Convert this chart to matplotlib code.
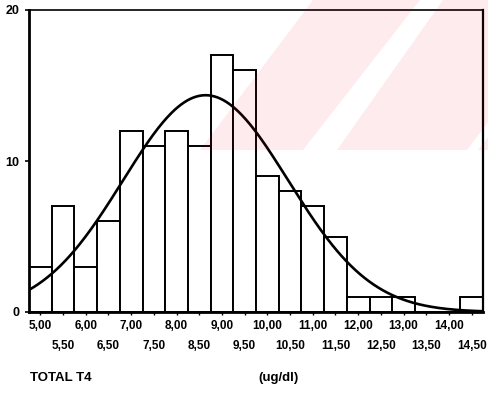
import numpy as np
import matplotlib
matplotlib.use("Agg")
import matplotlib.pyplot as plt
from matplotlib.patches import Polygon

# Histogram of TOTAL T4 (ug/dl), bins of width 0.5
bin_centers = [5.0, 5.5, 6.0, 6.5, 7.0, 7.5, 8.0, 8.5, 9.0, 9.5,
               10.0, 10.5, 11.0, 11.5, 12.0, 12.5, 13.0, 13.5, 14.0, 14.5]
counts = [3, 7, 3, 6, 12, 11, 12, 11, 17, 16,
          9, 8, 7, 5, 1, 1, 1, 0, 0, 1]
tick_labels = ["5,00", "5,50", "6,00", "6,50", "7,00", "7,50", "8,00", "8,50",
               "9,00", "9,50", "10,00", "10,50", "11,00", "11,50", "12,00",
               "12,50", "13,00", "13,50", "14,00", "14,50"]
y_ticks = [0, 10, 20]

# fitted normal curve parameters
mean_t4 = 8.64
sd_t4 = 1.82
bin_width = 0.5

plt.rcParams['font.family'] = ['Liberation Sans', 'DejaVu Sans']

W, H = 489, 393
fig = plt.figure(figsize=(W / 100, H / 100), dpi=100)
fig.patch.set_facecolor('white')
ax = fig.add_axes([29 / W, 1 - 312 / H, 454 / W, 302 / H])
ax.set_facecolor('white')

ax.bar(bin_centers, counts, width=bin_width, facecolor='white',
       edgecolor='black', linewidth=1.4, zorder=2)

n_total = sum(counts)
xs = np.linspace(4.75, 14.75, 300)
ys = n_total * bin_width / (sd_t4 * np.sqrt(2 * np.pi)) * np.exp(-0.5 * ((xs - mean_t4) / sd_t4) ** 2)
ax.plot(xs, ys, color='black', linewidth=1.9, zorder=3)

ax.set_xlim(4.75, 14.75)
ax.set_ylim(0, 20)

# two staggered rows of x labels
ax.set_xticks(bin_centers[0::2])
ax.set_xticklabels(tick_labels[0::2])
ax.set_xticks(bin_centers[1::2], minor=True)
ax.set_xticklabels(tick_labels[1::2], minor=True)
ax.tick_params(axis='x', which='major', length=2, width=1, pad=4,
               labelsize=8.5)
ax.tick_params(axis='x', which='minor', length=2, width=1, pad=18,
               labelsize=8.5)
for lab in ax.get_xticklabels(which='both'):
    lab.set_fontweight('bold')

ax.set_yticks(y_ticks)
ax.set_yticklabels([str(v) for v in y_ticks])
ax.tick_params(axis='y', length=3, width=1.2, pad=4, labelsize=9)
for lab in ax.get_yticklabels():
    lab.set_fontweight('bold')

ax.spines['left'].set_linewidth(2.0)
ax.spines['bottom'].set_linewidth(2.0)
ax.spines['top'].set_linewidth(1.2)
ax.spines['right'].set_linewidth(1.6)

fig.text(30 / W, 1 - 378 / H, "TOTAL T4", fontsize=9.5, fontweight='bold',
         va='center', ha='left')
fig.text(258 / W, 1 - 378 / H, "(ug/dl)", fontsize=9.5, fontweight='bold',
         va='center', ha='left')

# faint diagonal pink bands across the upper right
bands = [
    [(200, 150), (313, 0), (420, 0), (303, 150)],
    [(337, 150), (443, 0), (489, 0), (489, 121), (467, 150)],
    [(478, 150), (489, 136), (489, 150)],
]
for pts in bands:
    fig_pts = [(px / W, 1 - py / H) for px, py in pts]
    fig.add_artist(Polygon(fig_pts, closed=True, transform=fig.transFigure,
                           facecolor='#e6002a', alpha=0.08, edgecolor='none',
                           zorder=10))

fig.savefig("out.png", dpi=100)
